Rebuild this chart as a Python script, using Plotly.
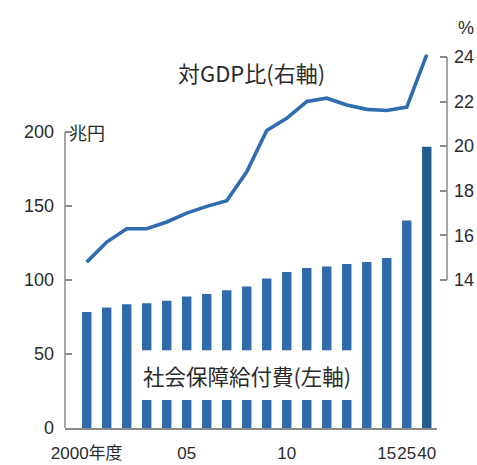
import plotly.graph_objects as go

# --- data ---
years = ["2000", "2001", "2002", "2003", "2004", "2005", "2006", "2007", "2008",
         "2009", "2010", "2011", "2012", "2013", "2014", "2015", "2025", "2040"]
benefits = [78.4, 81.4, 83.7, 84.3, 86.0, 88.9, 90.6, 93.1, 95.7,
            101.0, 105.4, 108.1, 109.1, 110.8, 112.1, 114.9, 140.2, 190.0]  # 兆円
gdp_ratio = [14.8, 15.7, 16.3, 16.3, 16.6, 17.0, 17.3, 17.55, 18.85,
             20.7, 21.25, 22.0, 22.15, 21.85, 21.65, 21.6, 21.75, 24.1]  # %
tick_years = ["2000", "2005", "2010", "2015", "2025", "2040"]
tick_text = ["2000年度", "05", "10", "15", "25", "40"]
left_ticks = [0, 50, 100, 150, 200]
right_ticks = [14, 16, 18, 20, 22, 24]

FONT = "Liberation Sans, Noto Sans CJK JP, sans-serif"
JP = "Noto Sans CJK JP, sans-serif"
TXT = "#2b2b2b"
AX = "#8a8a8a"

bar_colors = ["#2f6aaa"] * (len(years) - 1) + ["#245b8d"]

fig = go.Figure()
fig.add_trace(go.Bar(x=years, y=benefits, marker=dict(color=bar_colors, line=dict(width=0)),
                     yaxis="y", hoverinfo="skip"))
fig.add_trace(go.Scatter(x=years, y=gdp_ratio, mode="lines", yaxis="y2",
                         line=dict(color="#2f6db0", width=3.6),
                         hoverinfo="skip"))

fig.update_layout(
    width=477, height=465,
    margin=dict(l=65, r=30, t=40, b=37),
    paper_bgcolor="white", plot_bgcolor="white",
    showlegend=False, bargap=0.53,
    font=dict(family=FONT, color=TXT, size=18),
    xaxis=dict(type="category", domain=[0, 0.974], range=[-1.085, 17.515],
               showline=True, linecolor=AX, linewidth=1.5, ticks="", tickangle=0,
               tickvals=tick_years, ticktext=tick_text, showgrid=False, automargin=False,
               ticklabelstandoff=9, tickfont=dict(size=17, family=FONT, color=TXT)),
    yaxis=dict(range=[0, 262.2], tickvals=left_ticks, ticks="inside", ticklen=7,
               tickcolor=AX, tickwidth=1.5, showgrid=False, zeroline=False, showline=False,
               automargin=False, ticklabelstandoff=10,
               tickfont=dict(size=18, family=FONT, color=TXT)),
    yaxis2=dict(overlaying="y", side="right", anchor="free", position=1.0,
                range=[7.363, 24.76], tickvals=right_ticks, ticks="inside", ticklen=7,
                tickcolor=AX, tickwidth=1.5, showgrid=False, zeroline=False, showline=False,
                automargin=False, ticklabelstandoff=6,
                tickfont=dict(size=18, family=FONT, color=TXT)),
)

# axis lines that stop at the last tick
fig.add_shape(type="line", xref="paper", yref="y", x0=0, x1=0, y0=0, y1=200,
              line=dict(color=AX, width=1.5))
fig.add_shape(type="line", xref="paper", yref="y2", x0=1, x1=1, y0=14, y1=24,
              line=dict(color=AX, width=1.5))

# white band behind the bar label
fig.add_shape(type="rect", xref="x", yref="y", x0=2.47, x1=13.56, y0=19, y1=52.5,
              fillcolor="white", line=dict(width=0), layer="above")

fig.add_annotation(text="社会保障給付費(左軸)", xref="x", yref="y", x=8.0, y=35.5,
                   xanchor="center", yanchor="middle", showarrow=False,
                   font=dict(family=JP, size=21.5, color=TXT))
fig.add_annotation(text="対GDP比(右軸)", xref="paper", yref="paper", x=(251 - 65) / 382,
                   y=(428 - 72) / 388, xanchor="center", yanchor="middle", showarrow=False,
                   font=dict(family=JP, size=22, color=TXT))
fig.add_annotation(text="兆円", xref="paper", yref="y", x=2 / 382, y=200, xanchor="left",
                   yanchor="middle", showarrow=False, font=dict(family=JP, size=18, color=TXT))
fig.add_annotation(text="%", xref="paper", yref="paper", x=(466 - 65) / 382,
                   y=(428 - 28) / 388, xanchor="center", yanchor="middle", showarrow=False,
                   font=dict(family=FONT, size=18, color=TXT))

# page body has a default 8px margin; drop it so the figure sits at the corner
fig.write_html("out.html", config={"displayModeBar": False},
               post_script="document.body.style.margin='0';")
